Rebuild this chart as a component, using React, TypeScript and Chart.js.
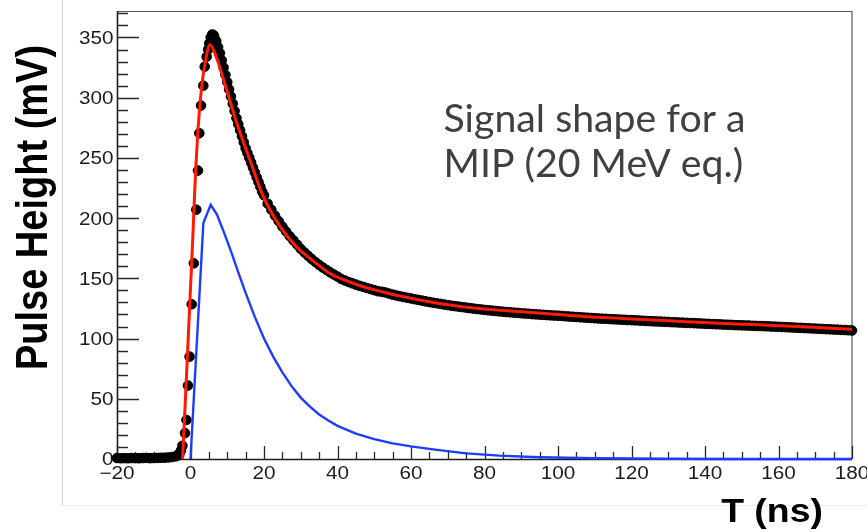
import React, { useEffect, useRef } from "react";
import { Chart, registerables } from "chart.js";

Chart.register(...registerables);

// ---- axes ----
const X_MIN = -20;
const X_MAX = 180;
const Y_MIN = 0;
const Y_MAX = 372;
const X_MAJOR = 20;
const X_MINOR = 5;
const Y_MAJOR = 50;
const Y_MINOR = 10;

const X_TITLE = "T (ns)";
const Y_TITLE = "Pulse Height (mV)";
const NOTE_LINES = ["Signal shape for a", "MIP (20 MeV eq.)"];

// sampling grid helper (time axis only)
function grid(start: number, end: number, step: number): number[] {
  const n = Math.round((end - start) / step);
  return Array.from({ length: n + 1 }, (_, i) => +(start + i * step).toFixed(3));
}

// ---- measured pulse (black points) ----
const baseT = grid(-20, -4, 1);
const baseV = [0.8, 0.6, 0.7, 0.6, 0.8, 0.7, 0.6, 0.8, 0.9, 0.7, 0.8, 0.9, 1.0, 1.1, 1.3, 1.6, 2.2];

const riseT = [-3.5, -3, -2.6, -2.2, -1.5, -1.1, -0.7, -0.25, 0.33, 0.9, 1.58, 2.04, 2.4, 2.86, 3.49, 3.86, 4.4, 4.8, 5.1, 5.5, 5.9, 6.3];
const riseV = [3, 4.5, 7, 11, 21.5, 32.4, 61, 85, 128.5, 162.5, 207, 239.5, 270.5, 293.5, 310, 325.8, 334, 340, 345, 350, 352.5, 352];

const decayT = grid(6.5, 20, 0.5);
const decayV = [350, 347, 342, 337, 331, 325, 319, 313, 307, 301, 295, 289, 283, 278, 273, 268, 263, 258, 254, 250, 246, 242, 238, 234, 230, 226, 222, 219];

const tailT = grid(21, 180, 1);
const tailV = [
  212, 207, 202, 197.5, 193, 189, 185, 181.5, 178, 174.5,
  171.5, 168.7, 166, 163.5, 161.2, 159, 157, 155, 153.2, 151.5,
  149.5, 148.2, 147, 145.9, 144.8, 143.8, 142.9, 142, 141.1, 140.2,
  139.3, 138.9, 138.3, 137.4, 136.5, 135.8, 135.1, 134.5, 133.9, 133.3,
  132.7, 132.1, 131.5, 130.9, 130.3, 129.8, 129.3, 128.8, 128.3, 127.8,
  127.3, 126.9, 126.5, 126.1, 125.7, 125.3, 124.9, 124.5, 124.2, 123.8,
  123.5, 123.2, 122.9, 122.6, 122.3, 122, 121.8, 121.5, 121.3, 121,
  120.8, 120.6, 120.3, 120.1, 119.9, 119.7, 119.5, 119.3, 119.1, 119,
  118.8, 118.5, 118.3, 118.1, 117.9, 117.7, 117.5, 117.3, 117.1, 116.9,
  116.7, 116.5, 116.4, 116.2, 116, 115.9, 115.7, 115.6, 115.4, 115.3,
  115.1, 115, 114.8, 114.6, 114.5, 114.3, 114.2, 114.1, 113.9, 113.8,
  113.6, 113.5, 113.3, 113.2, 113, 112.9, 112.8, 112.6, 112.5, 112.3,
  112.2, 112, 111.9, 111.8, 111.6, 111.5, 111.4, 111.2, 111.1, 111,
  110.9, 110.8, 110.6, 110.5, 110.4, 110.3, 110.2, 110, 109.9, 109.8,
  109.6, 109.5, 109.3, 109.2, 109, 108.9, 108.7, 108.6, 108.4, 108.3,
  108.1, 108, 107.8, 107.7, 107.5, 107.4, 107.2, 107.1, 106.9, 106.7,
];

// ---- fit (red) ----
const fitT = [-2.15, -1, 0, 0.6, 1.2, 2.1, 3, 4, 5.3, 7.1, 9.4, 12.6, 16.2, 19.8, 24.4, 28.9, 34, 38, 42, 47, 52, 56, 60, 65, 70, 74, 80, 85, 92, 100, 108, 117, 126, 135, 144, 153, 162, 171, 180];
const fitV = [0, 75, 142, 182, 226, 276, 308, 329, 344, 333, 311, 279, 248, 218, 193, 176, 163, 154, 148.5, 143, 139, 136, 133.5, 130.6, 128, 126.5, 124.6, 123.3, 121.8, 120, 118.2, 116.8, 115.4, 114, 112.7, 111.6, 110.5, 109.1, 107.7];

// ---- component (blue) ----
const compT = [0, 3.5, 5.5, 7.2, 9, 11.2, 13, 15, 17.5, 20, 22.5, 25, 27.5, 30, 32.5, 35, 37.5, 40, 45, 50, 55, 60, 66, 75, 84, 95, 110, 130, 150, 180];
const compV = [0, 196, 211, 203, 189, 171, 155, 138, 118, 100, 85, 72, 60.5, 51, 43.5, 37, 32, 27.5, 21, 16.5, 13, 10.5, 8, 4.7, 2.8, 1.5, 0.6, 0.2, 0, 0];

const toXY = (ts: number[], vs: number[]) => ts.map((t, i) => ({ x: t, y: vs[i] }));

const SANS = '"Liberation Sans", Arial, Helvetica, sans-serif';
const STRETCH = 1.15;

function fmt(v: number): string {
  return v < 0 ? "\u2212" + Math.abs(v) : String(v);
}

function stretched(ctx: CanvasRenderingContext2D, text: string, x: number, y: number, sx: number, align: CanvasTextAlign) {
  ctx.save();
  ctx.translate(x, y);
  ctx.scale(sx, 1);
  ctx.textAlign = align;
  ctx.textBaseline = "alphabetic";
  ctx.fillText(text, 0, 0);
  ctx.restore();
}

const rootFrame = {
  id: "rootFrame",
  beforeDraw(chart: any) {
    const ctx: CanvasRenderingContext2D = chart.ctx;
    ctx.save();
    ctx.fillStyle = "#ffffff";
    ctx.fillRect(0, 0, chart.width, chart.height);
    ctx.lineWidth = 1;
    ctx.strokeStyle = "#d4d4d4";
    ctx.beginPath();
    ctx.moveTo(62.5, 0);
    ctx.lineTo(62.5, 505);
    ctx.stroke();
    ctx.strokeStyle = "#ececec";
    ctx.beginPath();
    ctx.moveTo(62, 505.5);
    ctx.lineTo(chart.width, 505.5);
    ctx.stroke();
    ctx.restore();
  },
  beforeDatasetsDraw(chart: any) {
    const ctx: CanvasRenderingContext2D = chart.ctx;
    const a = chart.chartArea;
    const xs = chart.scales.x;
    const ys = chart.scales.y;
    ctx.save();

    // frame
    ctx.strokeStyle = "#5a5a5a";
    ctx.lineWidth = 1.2;
    ctx.beginPath();
    ctx.moveTo(a.left, a.top + 0.5);
    ctx.lineTo(a.right, a.top + 0.5);
    ctx.lineTo(a.right, a.bottom);
    ctx.stroke();
    ctx.strokeStyle = "#1e1e1e";
    ctx.lineWidth = 1.6;
    ctx.beginPath();
    ctx.moveTo(a.left + 0.5, a.top);
    ctx.lineTo(a.left + 0.5, a.bottom + 0.5);
    ctx.lineTo(a.right, a.bottom + 0.5);
    ctx.stroke();

    // ticks (inside the frame)
    ctx.strokeStyle = "#2a2a2a";
    ctx.lineWidth = 1.3;
    ctx.beginPath();
    for (let v = Y_MIN; v <= Y_MAX + 1e-6; v += Y_MINOR) {
      const py = Math.round(ys.getPixelForValue(v)) + 0.5;
      const len = v % Y_MAJOR === 0 ? 22 : 11;
      ctx.moveTo(a.left, py);
      ctx.lineTo(a.left + len, py);
    }
    for (let v = X_MIN; v <= X_MAX + 1e-6; v += X_MINOR) {
      const px = Math.round(xs.getPixelForValue(v)) + 0.5;
      const len = v % X_MAJOR === 0 ? 13 : 7;
      ctx.moveTo(px, a.bottom);
      ctx.lineTo(px, a.bottom - len);
    }
    ctx.stroke();

    // tick labels
    ctx.fillStyle = "#1c1c1c";
    ctx.font = `18px ${SANS}`;
    for (const t of ys.ticks) {
      const py = ys.getPixelForValue(t.value);
      stretched(ctx, fmt(t.value), a.left - 3.5, py + 6.4, STRETCH, "right");
    }
    for (const t of xs.ticks) {
      const px = xs.getPixelForValue(t.value);
      stretched(ctx, fmt(t.value), px, a.bottom + 19.5, STRETCH, "center");
    }

    // axis titles
    ctx.fillStyle = "#000000";
    ctx.font = `bold 38px ${SANS}`;
    ctx.save();
    ctx.translate(47, 207.5);
    ctx.scale(1.17, 1);
    ctx.rotate(-Math.PI / 2);
    ctx.textAlign = "center";
    ctx.textBaseline = "alphabetic";
    ctx.fillText(Y_TITLE, 0, 0);
    ctx.restore();

    ctx.font = `bold 32.5px ${SANS}`;
    stretched(ctx, X_TITLE, 772, 521.5, 1.15, "center");

    // annotation
    ctx.fillStyle = "#404040";
    ctx.font = `38.5px Lato, "Open Sans", sans-serif`;
    const w = ctx.measureText(NOTE_LINES[0]).width;
    const sx = 302 / w;
    stretched(ctx, NOTE_LINES[0], 443.5, 131.7, sx, "left");
    stretched(ctx, NOTE_LINES[1], 443.5, 176.7, sx, "left");

    ctx.restore();
  },
};

export default function App() {
  const ref = useRef<HTMLCanvasElement>(null);

  useEffect(() => {
    const canvas = ref.current;
    if (!canvas) return;
    const measured = [
      ...toXY(baseT, baseV),
      ...toXY(riseT, riseV),
      ...toXY(decayT, decayV),
      ...toXY(tailT, tailV),
    ];
    const chart = new Chart(canvas, {
      type: "line",
      data: {
        datasets: [
          {
            label: "component",
            data: toXY(compT, compV),
            borderColor: "#1d3cff",
            borderWidth: 2.4,
            pointRadius: 0,
            tension: 0,
            fill: false,
            clip: false,
            order: 1,
          },
          {
            label: "fit",
            data: toXY(fitT, fitV),
            borderColor: "#ff1a00",
            borderWidth: 3,
            pointRadius: 0,
            cubicInterpolationMode: "monotone",
            fill: false,
            clip: false,
            order: 2,
          },
          {
            label: "data",
            data: measured,
            showLine: false,
            pointRadius: 4.8,
            pointBackgroundColor: "#000000",
            pointBorderWidth: 1,
            pointBorderColor: "#000000",
            clip: false,
            order: 3,
          },
        ] as any,
      },
      options: {
        animation: false,
        responsive: false,
        devicePixelRatio: 1,
        events: [],
        layout: { padding: { top: 11, right: 15, bottom: 0, left: 0 } },
        plugins: { legend: { display: false }, tooltip: { enabled: false } },
        scales: {
          x: {
            type: "linear",
            min: X_MIN,
            max: X_MAX,
            ticks: { display: false, stepSize: X_MAJOR, includeBounds: false },
            grid: { display: false },
            border: { display: false },
            afterFit: (s: any) => {
              s.height = 73;
            },
          },
          y: {
            type: "linear",
            min: Y_MIN,
            max: Y_MAX,
            ticks: { display: false, stepSize: Y_MAJOR, includeBounds: false },
            grid: { display: false },
            border: { display: false },
            afterFit: (s: any) => {
              s.width = 117;
            },
          },
        },
      } as any,
      plugins: [rootFrame],
    });
    return () => chart.destroy();
  }, []);

  return (
    <div style={{ position: "absolute", left: 0, top: 0, width: 867, height: 532, background: "#fff" }}>
      <canvas ref={ref} width={867} height={532} style={{ display: "block", width: 867, height: 532 }} />
    </div>
  );
}
